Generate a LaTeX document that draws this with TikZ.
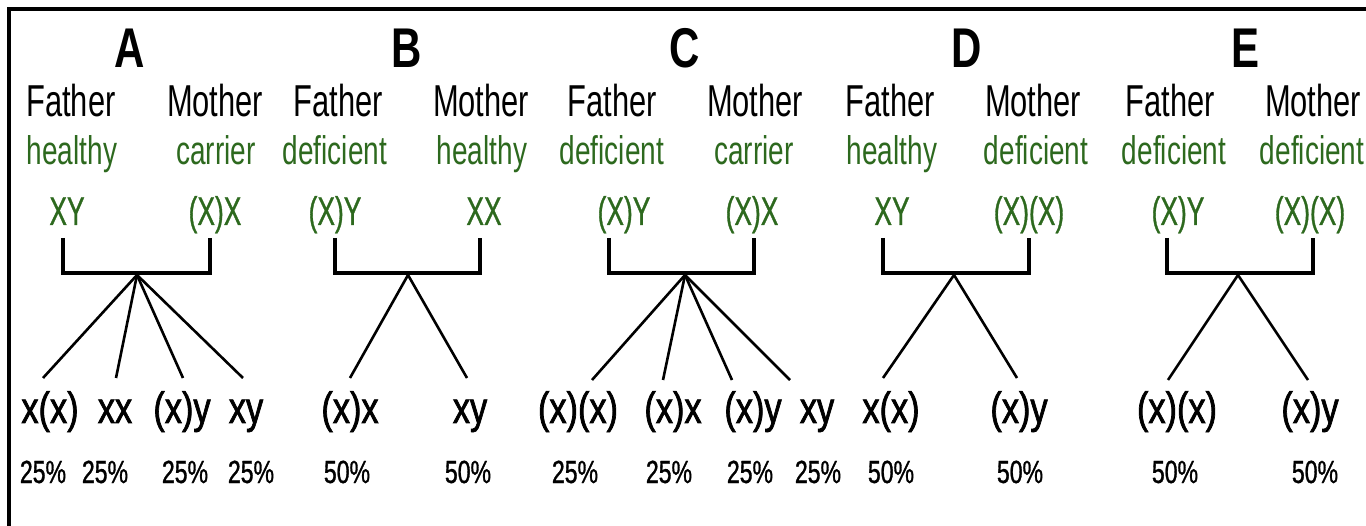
\documentclass[tikz,border=0pt]{standalone}
\usepackage{fontspec}
\setmainfont{Liberation Sans}
\newfontfamily\ftitlefam[FakeStretch=0.75]{Liberation Sans}
\newfontfamily\fnarrowfam[FakeStretch=0.69]{Liberation Sans}
\newfontfamily\fgreenfam[FakeStretch=0.70]{Liberation Sans}
\newfontfamily\fgenofam[FakeStretch=0.66,FakeBold=0.8]{Liberation Sans}
\newfontfamily\fchildfam[FakeStretch=0.78,FakeBold=1.6]{Liberation Sans}
\newfontfamily\fpctfam[FakeStretch=0.72,FakeBold=1]{Liberation Sans}
\definecolor{gene}{RGB}{45,105,30}
\tikzset{
  ttl/.style={anchor=base, inner sep=0pt, font=\ftitlefam\bfseries\fontsize{56}{60}\selectfont},
  parent/.style={anchor=base, inner sep=0pt, font=\fnarrowfam\fontsize{44.7}{50}\selectfont},
  status/.style={anchor=base, inner sep=0pt, text=gene, font=\fgreenfam\fontsize{40}{44}\selectfont},
  geno/.style={anchor=base, inner sep=0pt, text=gene, font=\fgenofam\fontsize{40}{44}\selectfont},
  child/.style={anchor=base, inner sep=0pt, font=\fchildfam\fontsize{44}{48}\selectfont},
  pct/.style={anchor=base, inner sep=0pt, font=\fpctfam\fontsize{32}{36}\selectfont},
  bracket/.style={line width=4pt},
  branch/.style={line width=2.6pt},
  frame/.style={line width=4pt}
}
\begin{document}
\begin{tikzpicture}[x=1pt,y=-1pt]
\useasboundingbox (0,0) rectangle (1366,526);
\draw[frame] (9,526) -- (9,9) -- (1366,9);

% ---------- titles
\node[ttl] (tA) at (130,68) {A};
\node[ttl] (tB) at (407,68) {B};
\node[ttl] (tC) at (685,68) {C};
\node[ttl] (tD) at (967,68) {D};
\node[ttl] (tE) at (1245,68) {E};

% ---------- Father / Mother
\foreach \n/\fx/\mx in {A/71/215, B/338/481, C/612/755, D/890/1033, E/1170/1313}{
  \node[parent] (f\n) at (\fx,117) {Father};
  \node[parent] (m\n) at (\mx,117) {Mother};
}

% ---------- status
\node[status] (sfA) at (72,165) {healthy};
\node[status] (smA) at (216,165) {carrier};
\node[status] (sfB) at (335,165) {deficient};
\node[status] (smB) at (482,165) {healthy};
\node[status] (sfC) at (612,165) {deficient};
\node[status] (smC) at (754,165) {carrier};
\node[status] (sfD) at (892,165) {healthy};
\node[status] (smD) at (1036,165) {deficient};
\node[status] (sfE) at (1174,165) {deficient};
\node[status] (smE) at (1312,165) {deficient};

% ---------- genotypes
\node[geno] (gfA) at (67,225) {XY};
\node[geno] (gmA) at (215,225) {(X)X};
\node[geno] (gfB) at (335,225) {(X)Y};
\node[geno] (gmB) at (484,225) {XX};
\node[geno] (gfC) at (624,225) {(X)Y};
\node[geno] (gmC) at (752,225) {(X)X};
\node[geno] (gfD) at (892,225) {XY};
\node[geno] (gmD) at (1029,225) {(X)(X)};
\node[geno] (gfE) at (1178,225) {(X)Y};
\node[geno] (gmE) at (1310,225) {(X)(X)};

% ---------- brackets and apex
\foreach \n/\l/\r/\ax in {A/63/210/137, B/335/480/408, C/609/754/685, D/883/1029/954, E/1167/1313/1238}{
  \coordinate (bl\n) at (\l,238);
  \coordinate (br\n) at (\r,238);
  \coordinate (ap\n) at (\ax,275);
  \draw[bracket] (bl\n) -- ++(0,35) -| (br\n);
}

% ---------- children
\node[child] (cA1) at (50,423) {x(x)};
\node[child] (cA2) at (115,423) {xx};
\node[child] (cA3) at (182,423) {(x)y};
\node[child] (cA4) at (246,423) {xy};
\node[child] (cB1) at (350,423) {(x)x};
\node[child] (cB2) at (470,423) {xy};
\node[child] (cC1) at (578,423) {(x)(x)};
\node[child] (cC2) at (673,423) {(x)x};
\node[child] (cC3) at (753,423) {(x)y};
\node[child] (cC4) at (817,423) {xy};
\node[child] (cD1) at (891,423) {x(x)};
\node[child] (cD2) at (1019,423) {(x)y};
\node[child] (cE1) at (1177,423) {(x)(x)};
\node[child] (cE2) at (1310,423) {(x)y};

% ---------- branch ends
\coordinate (eA1) at (43,378);
\coordinate (eA2) at (116,378);
\coordinate (eA3) at (183,378);
\coordinate (eA4) at (243,378);
\coordinate (eB1) at (350,378);
\coordinate (eB2) at (467,378);
\coordinate (eC1) at (592,380);
\coordinate (eC2) at (663,380);
\coordinate (eC3) at (732,380);
\coordinate (eC4) at (790,380);
\coordinate (eD1) at (883,378);
\coordinate (eD2) at (1017,378);
\coordinate (eE1) at (1168,380);
\coordinate (eE2) at (1308,380);

\foreach \e in {A1,A2,A3,A4}{\draw[branch] (apA) -- (e\e);}
\foreach \e in {B1,B2}{\draw[branch] (apB) -- (e\e);}
\foreach \e in {C1,C2,C3,C4}{\draw[branch] (apC) -- (e\e);}
\foreach \e in {D1,D2}{\draw[branch] (apD) -- (e\e);}
\foreach \e in {E1,E2}{\draw[branch] (apE) -- (e\e);}

% ---------- percentages
\node[pct] (pA1) at (43,483) {25\%};
\node[pct] (pA2) at (105,483) {25\%};
\node[pct] (pA3) at (185,483) {25\%};
\node[pct] (pA4) at (251,483) {25\%};
\node[pct] (pB1) at (347,483) {50\%};
\node[pct] (pB2) at (468,483) {50\%};
\node[pct] (pC1) at (575,483) {25\%};
\node[pct] (pC2) at (669,483) {25\%};
\node[pct] (pC3) at (750,483) {25\%};
\node[pct] (pC4) at (818,483) {25\%};
\node[pct] (pD1) at (891,483) {50\%};
\node[pct] (pD2) at (1020,483) {50\%};
\node[pct] (pE1) at (1175,483) {50\%};
\node[pct] (pE2) at (1315,483) {50\%};
\end{tikzpicture}
\end{document}
